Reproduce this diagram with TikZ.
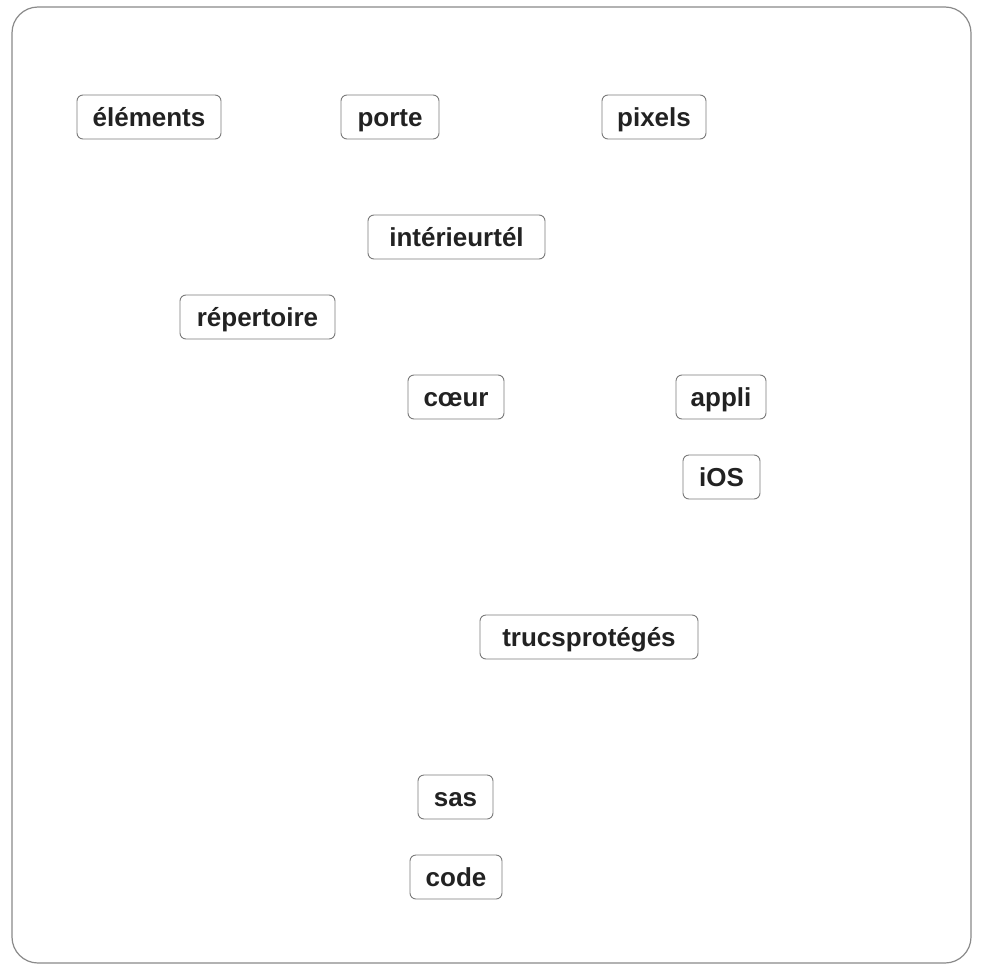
\documentclass[tikz,border=0pt]{standalone}
\usepackage{fontspec}
\setmainfont{Liberation Sans}
\definecolor{frame}{HTML}{8A8A8A}
\definecolor{boxline}{HTML}{7A7A7A}
\definecolor{ink}{HTML}{222222}
\begin{document}
\begin{tikzpicture}[x=1pt,y=-1pt,
  tag/.style={draw=boxline, line width=0.9pt, rounded corners=6pt, fill=white,
    minimum height=44pt, inner sep=0pt, text height=18pt, text depth=0pt, text=ink,
    font=\fontsize{26}{30}\selectfont\bfseries}]
\useasboundingbox (0,0) rectangle (991,964);
\fill[white] (0,0) rectangle (991,964);
\draw[frame, line width=1.2pt, rounded corners=26pt] (12,7) rectangle (971,963);
\node[tag, minimum width=144pt] (elements) at (149,117) {éléments};
\node[tag, minimum width=98pt] (porte) at (390,117) {porte};
\node[tag, minimum width=104pt] (pixels) at (654,117) {pixels};
\node[tag, minimum width=177pt] (interieurtel) at (456.5,237) {intérieurtél};
\node[tag, minimum width=155pt] (repertoire) at (257.5,317) {répertoire};
\node[tag, minimum width=96pt] (coeur) at (456,397) {cœur};
\node[tag, minimum width=90pt] (appli) at (721,397) {appli};
\node[tag, minimum width=77pt] (ios) at (721.5,477) {iOS};
\node[tag, minimum width=218pt] (trucs) at (589,637) {trucsprotégés};
\node[tag, minimum width=75pt] (sas) at (455.5,797) {sas};
\node[tag, minimum width=92pt] (code) at (456,877) {code};
\end{tikzpicture}
\end{document}
